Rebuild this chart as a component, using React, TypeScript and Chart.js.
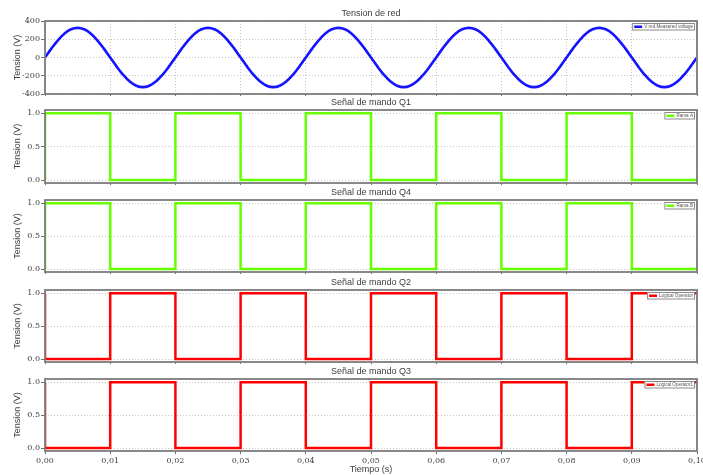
import React, { useEffect, useRef } from 'react';
import { Chart, registerables } from 'chart.js';

Chart.register(...registerables);

// Grid voltage, sampled every millisecond over 0..0.1 s (5 cycles of 50 Hz)
const samplePeriod = 0.001;
const vRed = [
  0, 100, 191, 263, 309, 325, 309, 263, 191, 100,
  0, -100, -191, -263, -309, -325, -309, -263, -191, -100,
  0, 100, 191, 263, 309, 325, 309, 263, 191, 100,
  0, -100, -191, -263, -309, -325, -309, -263, -191, -100,
  0, 100, 191, 263, 309, 325, 309, 263, 191, 100,
  0, -100, -191, -263, -309, -325, -309, -263, -191, -100,
  0, 100, 191, 263, 309, 325, 309, 263, 191, 100,
  0, -100, -191, -263, -309, -325, -309, -263, -191, -100,
  0, 100, 191, 263, 309, 325, 309, 263, 191, 100,
  0, -100, -191, -263, -309, -325, -309, -263, -191, -100,
  0,
];

// Switching edges (s) and the level held after each edge
const edgeTimes = [0, 0, 0.01, 0.02, 0.03, 0.04, 0.05, 0.06, 0.07, 0.08, 0.09, 0.1];
const q1Levels = [0, 1, 0, 1, 0, 1, 0, 1, 0, 1, 0, 0];
const q4Levels = [0, 1, 0, 1, 0, 1, 0, 1, 0, 1, 0, 0];
const q2Levels = [1, 0, 1, 0, 1, 0, 1, 0, 1, 0, 1, 1];
const q3Levels = [1, 0, 1, 0, 1, 0, 1, 0, 1, 0, 1, 1];

const xTickLabels = ['0,00', '0,01', '0,02', '0,03', '0,04', '0,05', '0,06', '0,07', '0,08', '0,09', '0,10'];
const voltTickLabels = ['-400', '-200', '0', '200', '400'];
const logicTickLabels = ['0.0', '0.5', '1.0'];

const panelTitles = ['Tension de red', 'Señal de mando Q1', 'Señal de mando Q4', 'Señal de mando Q2', 'Señal de mando Q3'];
const seriesLabels = ['V red:Measured voltage', 'Rama A', 'Rama B', 'Logical Operator', 'Logical Operator1'];

const W = 703;
const PLOT_LEFT = 45;
const PLOT_RIGHT = 697;
const TOP_PAD = 21;

const SANS = '"Liberation Sans", Arial, sans-serif';
const SERIF = '"DejaVu Serif", serif';
const TEXT = '#404040';

type Panel = {
  title: string;
  label: string;
  color: string;
  width: number;
  points: { x: number; y: number }[];
  stepped: boolean;
  yMin: number;
  yMax: number;
  yStep: number;
  yLabels: string[];
  plotTop: number;
  plotH: number;
};

const sinePoints = vRed.map((v, i) => ({ x: i * samplePeriod, y: v }));
const edges = (levels: number[]) => levels.map((v, i) => ({ x: edgeTimes[i], y: v }));

const BLUE = '#1414ff';
const GREEN = '#66ff00';
const RED = '#ff0000';

const panels: Panel[] = [
  { title: panelTitles[0], label: seriesLabels[0], color: BLUE, width: 2.6, points: sinePoints, stepped: false, yMin: -400, yMax: 400, yStep: 200, yLabels: voltTickLabels, plotTop: 21, plotH: 73 },
  { title: panelTitles[1], label: seriesLabels[1], color: GREEN, width: 2.5, points: edges(q1Levels), stepped: true, yMin: -0.045, yMax: 1.05, yStep: 0.5, yLabels: logicTickLabels, plotTop: 110, plotH: 73 },
  { title: panelTitles[2], label: seriesLabels[2], color: GREEN, width: 2.5, points: edges(q4Levels), stepped: true, yMin: -0.045, yMax: 1.05, yStep: 0.5, yLabels: logicTickLabels, plotTop: 200, plotH: 72 },
  { title: panelTitles[3], label: seriesLabels[3], color: RED, width: 2.5, points: edges(q2Levels), stepped: true, yMin: -0.045, yMax: 1.05, yStep: 0.5, yLabels: logicTickLabels, plotTop: 290, plotH: 72 },
  { title: panelTitles[4], label: seriesLabels[4], color: RED, width: 2.5, points: edges(q3Levels), stepped: true, yMin: -0.045, yMax: 1.05, yStep: 0.5, yLabels: logicTickLabels, plotTop: 379, plotH: 72 },
];

// Draws the panel title, the plot frame and the small boxed legend
const panelDecor = {
  id: 'panelDecor',
  afterDraw(chart: any, _args: any, opts: any) {
    const { ctx, chartArea } = chart;
    const { left, right, top, bottom } = chartArea;
    ctx.save();

    ctx.font = `9px ${SANS}`;
    ctx.fillStyle = TEXT;
    ctx.textAlign = 'center';
    ctx.textBaseline = 'middle';
    ctx.fillText(opts.title, (left + right) / 2, top - 7);

    ctx.strokeStyle = '#7c7c7c';
    ctx.lineWidth = 1.8;
    ctx.strokeRect(left, top, right - left, bottom - top);

    const ds = chart.data.datasets[0];
    ctx.font = `4.6px ${SANS}`;
    const tw = ctx.measureText(ds.label).width;
    const sample = 8;
    const boxW = 2 + sample + 2 + tw + 2;
    const boxH = 7.5;
    const bx = right - 2 - boxW;
    const by = top + 2;
    ctx.fillStyle = '#ffffff';
    ctx.fillRect(bx, by, boxW, boxH);
    ctx.strokeStyle = '#8a8a8a';
    ctx.lineWidth = 1;
    ctx.strokeRect(bx + 0.5, by + 0.5, boxW - 1, boxH - 1);
    ctx.strokeStyle = ds.borderColor;
    ctx.lineWidth = 2.5;
    ctx.beginPath();
    ctx.moveTo(bx + 2, by + boxH / 2);
    ctx.lineTo(bx + 2 + sample, by + boxH / 2);
    ctx.stroke();
    ctx.fillStyle = '#555555';
    ctx.textAlign = 'left';
    ctx.fillText(ds.label, bx + sample + 4, by + boxH / 2 + 0.3);

    ctx.restore();
  },
};

function PanelChart({ panel, last }: { panel: Panel; last: boolean }) {
  const ref = useRef<HTMLCanvasElement>(null);
  const xAxisH = last ? 24 : 2;
  const height = TOP_PAD + panel.plotH + xAxisH;

  useEffect(() => {
    if (!ref.current) return;
    const chart = new Chart(ref.current, {
      type: 'line',
      data: {
        datasets: [
          {
            label: panel.label,
            data: panel.points,
            borderColor: panel.color,
            backgroundColor: panel.color,
            borderWidth: panel.width,
            pointRadius: 0,
            fill: false,
            stepped: panel.stepped,
            cubicInterpolationMode: 'monotone',
          },
        ],
      },
      options: {
        responsive: false,
        animation: false,
        devicePixelRatio: 1,
        layout: { padding: { left: 0, right: W - PLOT_RIGHT, top: TOP_PAD, bottom: 0 } },
        plugins: {
          legend: { display: false },
          title: { display: false },
          tooltip: { enabled: false },
          panelDecor: { title: panel.title },
        } as any,
        scales: {
          x: {
            type: 'linear',
            min: 0,
            max: 0.1,
            ticks: {
              stepSize: 0.01,
              display: last,
              autoSkip: false,
              maxRotation: 0,
              padding: 2,
              color: TEXT,
              font: { family: SERIF, size: 8 },
              callback: (_v: any, i: number) => xTickLabels[i],
            },
            grid: {
              color: '#c4c4c4',
              lineWidth: 1,
              drawTicks: true,
              tickLength: 3,
              tickColor: '#707070',
              tickBorderDash: [],
            },
            border: { display: false, dash: [1, 2] },
            title: {
              display: last,
              text: 'Tiempo (s)',
              color: TEXT,
              font: { family: SANS, size: 9 },
              padding: 0,
            },
            afterFit: (s: any) => {
              s.height = xAxisH;
              s.paddingLeft = 0;
              s.paddingRight = 0;
            },
          },
          y: {
            type: 'linear',
            min: panel.yMin,
            max: panel.yMax,
            ticks: {
              stepSize: panel.yStep,
              includeBounds: false,
              padding: 1,
              color: TEXT,
              font: { family: SERIF, size: 8 },
              callback: (_v: any, i: number) => panel.yLabels[i],
            },
            grid: {
              color: '#c4c4c4',
              lineWidth: 1,
              drawTicks: true,
              tickLength: 4,
              tickColor: '#707070',
              tickBorderDash: [],
            },
            border: { display: false, dash: [1, 2] },
            title: {
              display: true,
              text: 'Tension (V)',
              color: TEXT,
              font: { family: SANS, size: 9 },
              padding: { top: 12, bottom: 0 },
            },
            afterFit: (s: any) => {
              s.width = PLOT_LEFT;
              s.paddingTop = 0;
              s.paddingBottom = 0;
            },
          },
        },
      } as any,
      plugins: [panelDecor],
    });
    return () => chart.destroy();
  }, [panel, last]);

  return (
    <canvas
      ref={ref}
      width={W}
      height={height}
      style={{ position: 'absolute', left: 0, top: panel.plotTop - TOP_PAD, width: W, height }}
    />
  );
}

export default function App() {
  return (
    <div style={{ position: 'fixed', left: 0, top: 0, width: W, height: 475, background: '#ffffff', overflow: 'hidden' }}>
      {panels.map((p, i) => (
        <PanelChart key={i} panel={p} last={i === panels.length - 1} />
      ))}
    </div>
  );
}
